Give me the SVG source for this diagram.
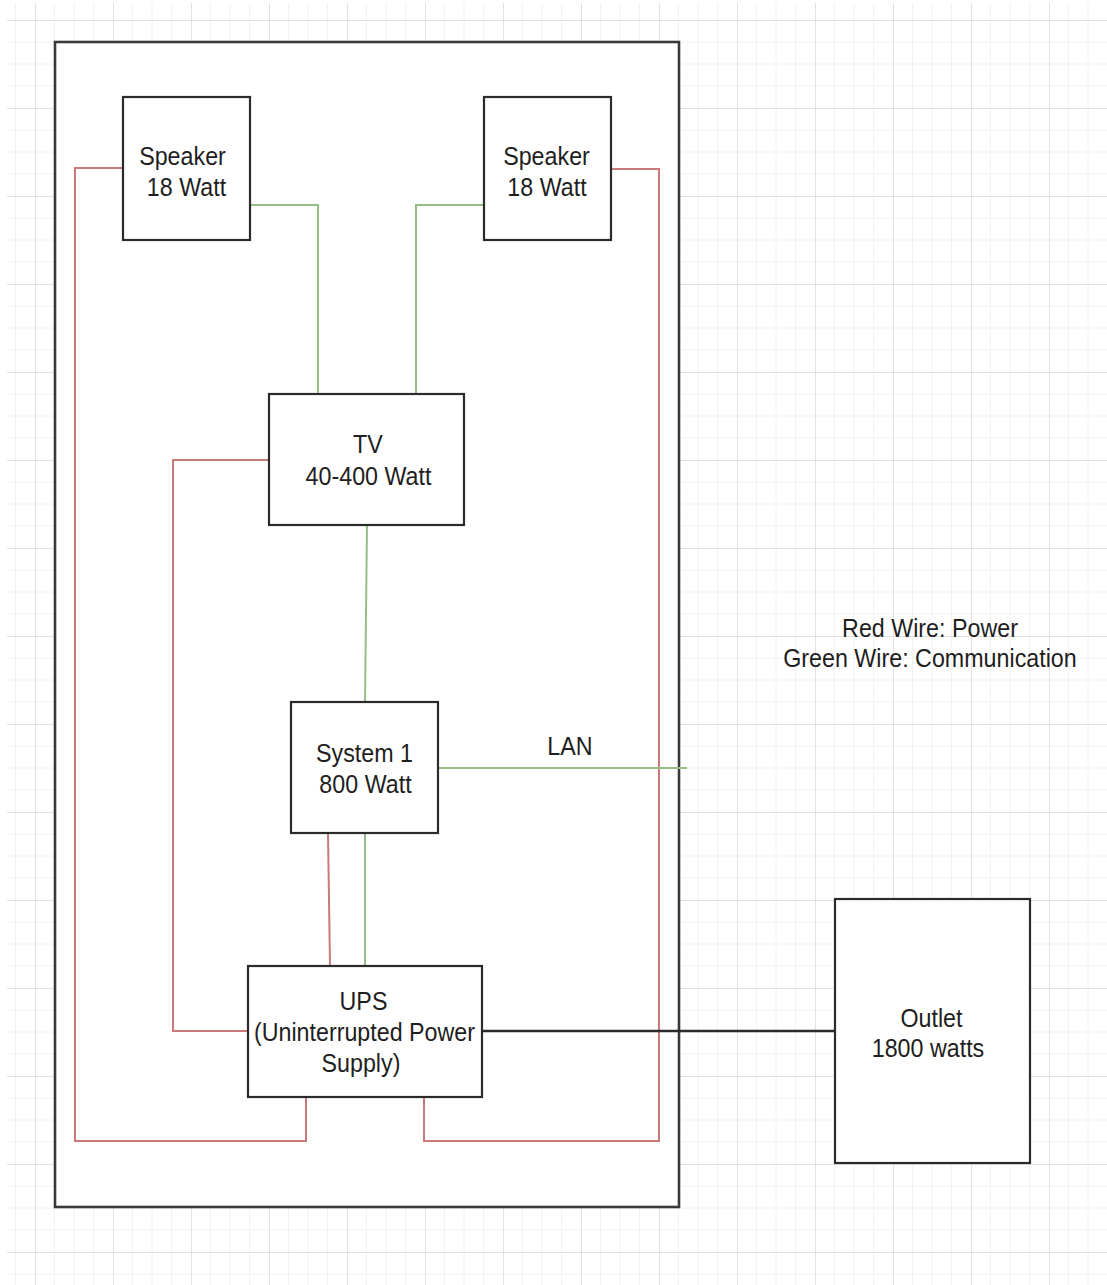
<svg xmlns="http://www.w3.org/2000/svg" width="1107" height="1285" viewBox="0 0 1107 1285">
<style>
.box{fill:#fff;stroke:#2b2b2b;stroke-width:2.2}
.frame{fill:#fff;stroke:#3a3a3a;stroke-width:2.6}
.t{font-family:"Liberation Sans",Arial,sans-serif;font-size:25.3px;fill:#1e1e1e;text-anchor:middle}
.g{fill:none;stroke:#93bf85;stroke-width:2}
.r{fill:none;stroke:#c97a78;stroke-width:2}
.k{fill:none;stroke:#2b2b2b;stroke-width:2.4}
</style>
<defs>
<pattern id="grid" patternUnits="userSpaceOnUse" x="35" y="20" width="78" height="88">
<path d="M19.5 0V88M39 0V88M58.5 0V88M0 22H78M0 44H78M0 66H78" stroke="#f2f2f2" stroke-width="1" fill="none"/>
<path d="M0.5 0V88M0 0.5H78" stroke="#e2e2e2" stroke-width="1" fill="none"/>
</pattern>
</defs>
<rect width="1107" height="1285" fill="#fff"/>
<rect x="7" y="3" width="1100" height="1282" fill="url(#grid)"/>
<g id="container"><rect class="frame" x="55" y="42" width="624" height="1165"/></g>
<g id="connectors">
<path class="r" d="M123 168H75V1141H306V1097"/>
<path class="r" d="M611 169H659V1141H424V1097"/>
<path class="r" d="M269 460H173V1031H248"/>
<path class="r" d="M328 833L330 966"/>
<path class="g" d="M250 205H318V394"/>
<path class="g" d="M484 205H416V394"/>
<path class="g" d="M367 525L365 702"/>
<path class="g" d="M438 768H687"/>
<path class="g" d="M365 833V966"/>
<path class="k" d="M482 1031H835"/>
</g>
<g id="speaker1"><rect class="box" x="123" y="97" width="127" height="143"/>
<g transform="scale(0.92,1)"><text class="t" x="198.37" y="165">Speaker</text><text class="t" x="202.72" y="196">18 Watt</text></g></g>
<g id="speaker2"><rect class="box" x="484" y="97" width="127" height="143"/>
<g transform="scale(0.92,1)"><text class="t" x="594.02" y="165">Speaker</text><text class="t" x="594.57" y="196">18 Watt</text></g></g>
<g id="tv"><rect class="box" x="269" y="394" width="195" height="131"/>
<g transform="scale(0.92,1)"><text class="t" x="400" y="453">TV</text><text class="t" x="400.54" y="485">40-400 Watt</text></g></g>
<g id="system1"><rect class="box" x="291" y="702" width="147" height="131"/>
<g transform="scale(0.92,1)"><text class="t" x="396.2" y="762">System 1</text><text class="t" x="397.28" y="793">800 Watt</text></g></g>
<g id="ups"><rect class="box" x="248" y="966" width="234" height="131"/>
<g transform="scale(0.92,1)"><text class="t" x="395.11" y="1010">UPS</text><text class="t" x="396.2" y="1041">(Uninterrupted Power</text><text class="t" x="392.39" y="1072">Supply)</text></g></g>
<g id="outlet"><rect class="box" x="835" y="899" width="195" height="264"/>
<g transform="scale(0.92,1)"><text class="t" x="1012.5" y="1027">Outlet</text><text class="t" x="1008.7" y="1057">1800 watts</text></g></g>
<g id="lan-label"><g transform="scale(0.92,1)"><text class="t" x="619.57" y="755">LAN</text></g></g>
<g id="legend"><g transform="scale(0.92,1)"><text class="t" x="1010.87" y="637">Red Wire: Power</text><text class="t" x="1010.87" y="667">Green Wire: Communication</text></g></g>
</svg>
